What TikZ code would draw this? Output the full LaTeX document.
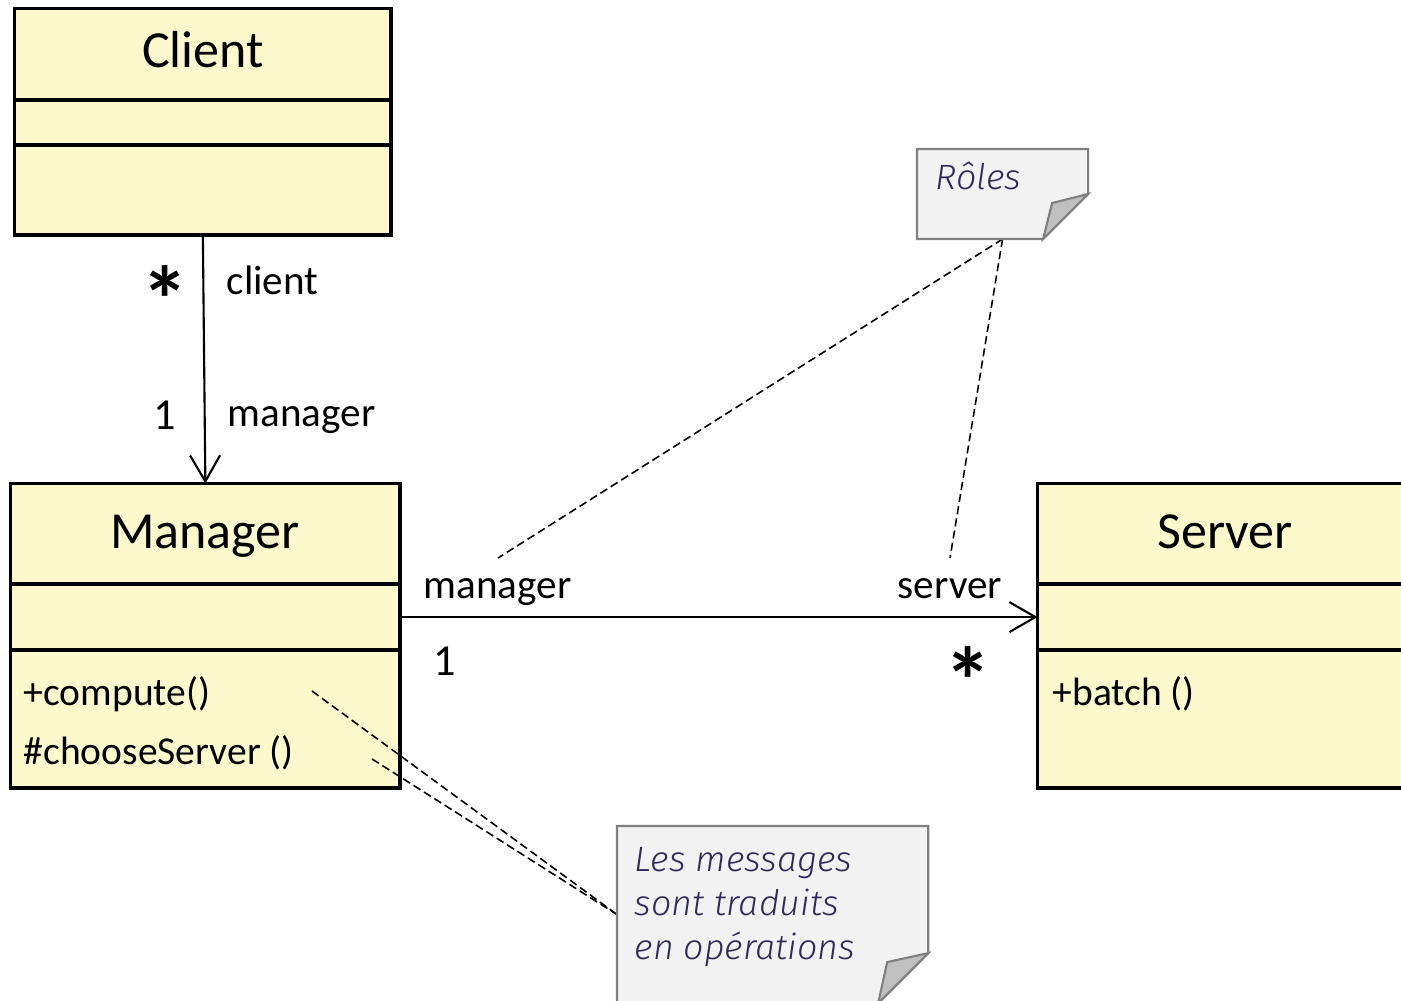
\documentclass[tikz,border=0pt]{standalone}
\usepackage{fontspec}
\setmainfont{Carlito}
\newfontfamily\notefont[FakeStretch=1.02]{Fira Sans Light}
\usetikzlibrary{arrows.meta,calc}

\definecolor{classfill}{RGB}{252,250,204}
\definecolor{notefill}{RGB}{242,242,242}
\definecolor{noteline}{RGB}{128,128,128}
\definecolor{notefold}{RGB}{192,192,192}
\definecolor{notetext}{RGB}{46,42,90}

\begin{document}
\begin{tikzpicture}[x=0.01cm,y=-0.01cm,
  classbox/.style={draw=black, fill=classfill, line width=1.05pt, rectangle,
    inner sep=0pt, outer sep=0pt, anchor=north west},
  divider/.style={line width=1.05pt},
  assoc/.style={line width=0.6pt,
    -{Straight Barb[length=2.6mm,width=3mm,line width=0.6pt]}},
  classname/.style={font=\fontsize{14.8}{17}\selectfont, anchor=base, inner sep=0pt},
  member/.style={font=\fontsize{11.25}{13}\selectfont, anchor=base west, inner sep=0pt},
  rolename/.style={font=\fontsize{11.7}{14}\selectfont, anchor=base west, inner sep=0pt},
  multone/.style={font=\fontsize{12.6}{14}\selectfont, anchor=base, inner sep=0pt},
  multmany/.style={font=\fontsize{27}{27}\selectfont\bfseries, inner sep=0pt},
  notelink/.style={dash pattern=on 2.3pt off 1.2pt, line width=0.45pt},
  notebody/.style={inner sep=0pt, outer sep=0pt, anchor=north west},
  noteshape/.style={draw=noteline, fill=notefill, line width=0.6pt},
  notefoldshape/.style={draw=noteline, fill=notefold, line width=0.6pt},
  notetxt/.style={font=\notefont\itshape\fontsize{10}{11}\selectfont,
    text=notetext, anchor=base west, inner sep=0pt}]

\useasboundingbox (0,0) rectangle (1401,1001);
\clip (0,0) rectangle (1401,1001);

% ---- classes ----
\node[classbox, minimum width=3.765cm, minimum height=2.265cm] (client) at (14.5,8.5) {};
\draw[divider] (14.5,100) -- (391,100);
\draw[divider] (14.5,145) -- (391,145);
\node[classname] (clientname) at (203,68) {Client};

\node[classbox, minimum width=3.895cm, minimum height=3.045cm] (manager) at (10.5,483.5) {};
\draw[divider] (10.5,584) -- (400,584);
\draw[divider] (10.5,650) -- (400,650);
\node[classname] (managername) at (205,549) {Manager};
\node[member] (compute) at (23,705) {+compute()};
\node[member] (choose) at (23,764) {\#chooseServer ()};

\node[classbox, minimum width=4.0cm, minimum height=3.045cm] (server) at (1037.5,483.5) {};
\draw[divider] (1037.5,584) -- (1437.5,584);
\draw[divider] (1037.5,650) -- (1437.5,650);
\node[classname] (servername) at (1225,549) {Server};
\node[member] (batch) at (1052,705) {+batch ()};

% ---- associations ----
\draw[assoc] (client.south) -- (manager.north);
\node[multmany] (clientmult) at (165,300) {*};
\node[rolename] (clientrole) at (226,295) {client};
\node[multone] (managermult) at (165,430) {1};
\node[rolename] (managerrole) at (227,427) {manager};

\draw[assoc] ([yshift=0.1875cm]manager.east) -- ([yshift=0.1875cm]server.west);
\node[rolename] (managerrole2) at (423,598) {manager};
\node[multone] (managermult2) at (445,675) {1};
\node[rolename] (serverrole) at (897,598) {server};
\node[multmany] (servermult) at (968,681) {*};

% ---- comment notes ----
\coordinate (managerroletip) at (498,558);
\coordinate (serverroletip) at (950,558);
\coordinate (computetip) at (312,691);
\coordinate (choosetip) at (372,759);

\node[notebody, minimum width=1.71cm, minimum height=0.90cm] (roles) at (917,149) {};
\node[notebody, minimum width=3.11cm, minimum height=1.77cm] (msgs) at (617,826) {};

\draw[notelink] (roles.south) -- (managerroletip);
\draw[notelink] (roles.south) -- (serverroletip);
\draw[notelink] (computetip) -- (msgs.west);
\draw[notelink] (choosetip) -- (msgs.west);

\draw[noteshape] (roles.north west) -- (roles.north east)
  -- ($(roles.south east)+(0,-45)$) -- ($(roles.south east)+(-45,0)$)
  -- (roles.south west) -- cycle;
\draw[notefoldshape] ($(roles.south east)+(0,-45)$) -- ($(roles.south east)+(-36,-36)$)
  -- ($(roles.south east)+(-45,0)$) -- cycle;
\node[notetxt] (rolestext) at (935,190) {Rôles};

\draw[noteshape] (msgs.north west) -- (msgs.north east)
  -- ($(msgs.south east)+(0,-50)$) -- ($(msgs.south east)+(-50,0)$)
  -- (msgs.south west) -- cycle;
\draw[notefoldshape] ($(msgs.south east)+(0,-50)$) -- ($(msgs.south east)+(-41,-41)$)
  -- ($(msgs.south east)+(-50,0)$) -- cycle;
\node[notetxt] (msgsline1) at (634,871) {Les messages};
\node[notetxt] (msgsline2) at (634,915) {sont traduits};
\node[notetxt] (msgsline3) at (634,959) {en opérations};
\end{tikzpicture}
\end{document}
